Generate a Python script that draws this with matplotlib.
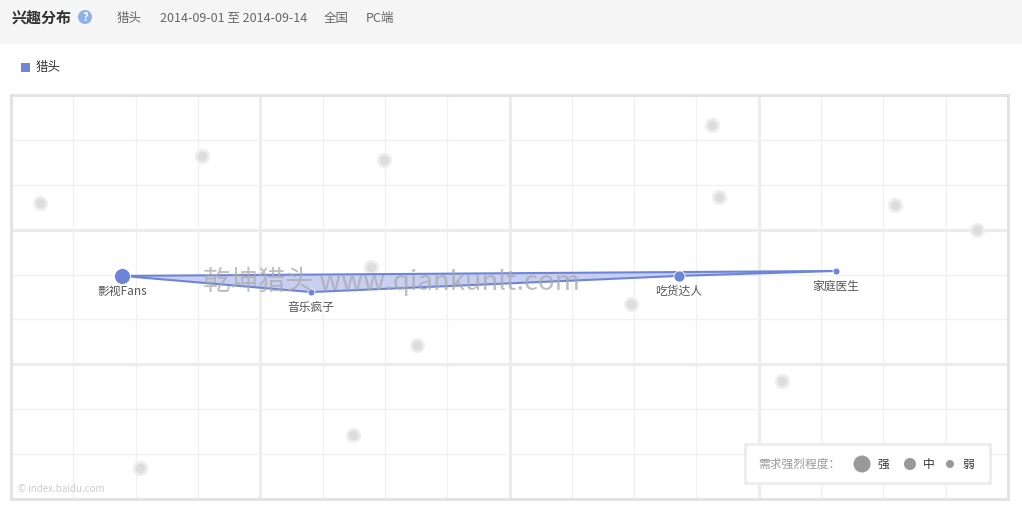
import matplotlib.pyplot as plt
from matplotlib.patches import Rectangle, Circle

plt.rcParams['font.family'] = ['Noto Sans CJK SC', 'DejaVu Sans']

# series points (grid units: x 0..16, y 0..9 from bottom)
names = ['影视Fans', '音乐疯子', '吃货达人', '家庭医生']
xs = [1.78, 4.82, 10.72, 13.24]
ys = [4.97, 4.61, 4.97, 5.08]
levels = ['强', '弱', '中', '弱']

# background (other) points
bg_x = [0.47, 3.07, 5.99, 5.78, 6.52, 5.49, 2.07, 9.95, 11.25, 11.37, 14.19, 15.51, 12.38]
bg_y = [6.60, 7.65, 7.55, 5.17, 3.43, 1.43, 0.68, 4.35, 8.34, 6.73, 6.55, 5.99, 2.62]

header_items = ['猎头', '2014-09-01 至 2014-09-14', '全国', 'PC端']
header_x = [117, 160, 324, 366]
legend_levels = ['强', '中', '弱']

size_map = {'强': 11.5, '中': 8.0, '弱': 5.0}
blue = '#6d85d9'

fig = plt.figure(figsize=(10.22, 5.09), dpi=100)
W, H = 1022, 509

# overlay in pixel units for header / legend decorations
ov = fig.add_axes([0, 0, 1, 1], zorder=0)
ov.set_xlim(0, W)
ov.set_ylim(H, 0)
ov.axis('off')

ov.add_patch(Rectangle((0, 0), W, 44, facecolor='#f5f5f5', edgecolor='none'))
ov.text(12, 18, '兴趣分布', fontsize=10.8, fontweight='bold', color='#333333', va='center')
ov.add_patch(Circle((85, 17), 7, facecolor='#8fb1e9', edgecolor='none'))
ov.text(85, 17.5, '?', fontsize=8, color='white', ha='center', va='center', fontweight='bold')
for t, x in zip(header_items, header_x):
    ov.text(x, 18, t, fontsize=9, color='#666666', va='center')

ov.add_patch(Rectangle((21, 63), 9, 9, facecolor='#6f87d8', edgecolor='none'))
ov.text(36, 67.5, '猎头', fontsize=9, color='#333333', va='center')

ax = fig.add_axes([11 / W, 1 - 499 / H, (1008 - 11) / W, (499 - 95) / H], zorder=1)
ax.set_xlim(0, 16)
ax.set_ylim(0, 9)
ax.set_xticks(range(0, 17, 4))
ax.set_xticks(range(0, 17), minor=True)
ax.set_yticks(range(0, 10, 3))
ax.set_yticks(range(0, 10), minor=True)
ax.grid(which='minor', color='#f1f1f1', lw=1)
ax.grid(which='major', color='#ececec', lw=2.2)
ax.tick_params(which='both', length=0, labelbottom=False, labelleft=False)
for s in ax.spines.values():
    s.set_color('#e2e2e2')
    s.set_linewidth(2)
ax.set_axisbelow(True)

# background dots
ax.plot(bg_x, bg_y, 'o', ms=11, color='#eeeeee', mec='none', zorder=2)
ax.plot(bg_x, bg_y, 'o', ms=7, color='#dddddd', mec='none', zorder=2)

# polygon
px = xs + [xs[0]]
py = ys + [ys[0]]
ax.fill(xs, ys, facecolor='#c5cdf1', edgecolor='none', alpha=0.95, zorder=3)
ax.plot(px, py, color=blue, lw=1.5, zorder=4)
for x, y, lv in zip(xs, ys, levels):
    ax.plot(x, y, 'o', ms=size_map[lv], color=blue, mec='white', mew=0.6, zorder=5)
for x, y, n in zip(xs, ys, names):
    ax.annotate(n, (x, y), xytext=(0, -11), textcoords='offset points', ha='center',
                va='center', fontsize=8.5, color='#555555', zorder=6)

# watermark
ax.text(6.1, 4.85, '乾坤猎头 www.qiankunlt.com', fontsize=19.8, color='#aaaaaa', alpha=0.75,
        ha='center', va='center', zorder=7)
ax.text(0.12, 0.22, '© index.baidu.com', fontsize=7, color='#cccccc', va='center', zorder=7)

# strength legend (on top)
top = fig.add_axes([0, 0, 1, 1], zorder=2)
top.set_xlim(0, W)
top.set_ylim(H, 0)
top.axis('off')
top.patch.set_alpha(0)
top.add_patch(Rectangle((745, 444), 245, 39, facecolor='white', edgecolor='#ececec', lw=2))
top.text(758, 464.5, '需求强烈程度：', fontsize=8.5, color='#999999', va='center')
leg_cx = [862, 910, 950]
leg_r = [8.5, 6, 4]
leg_tx = [877, 923, 962]
for lv, cx, r, tx in zip(legend_levels, leg_cx, leg_r, leg_tx):
    top.add_patch(Circle((cx, 464), r, facecolor='#999999', edgecolor='none'))
    top.text(tx, 464.5, lv, fontsize=8.5, color='#333333', va='center')

fig.savefig('out.png', dpi=100)
